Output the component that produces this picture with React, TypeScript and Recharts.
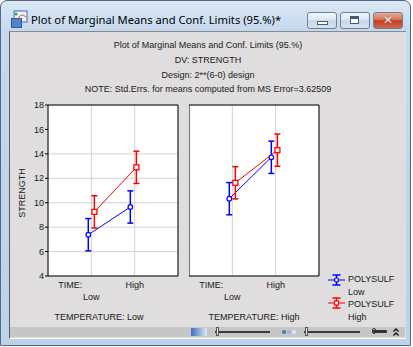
import React from 'react';
import {
  ComposedChart,
  Line,
  XAxis,
  YAxis,
  CartesianGrid,
  ErrorBar,
  ReferenceArea
} from 'recharts';

const timeLevels = ['Low', 'High'];
const temperatureLevels = ['Low', 'High'];
const polysulfLevels = ['Low', 'High'];

// marginal means, [TIME Low, TIME High]
const tempLowPolyLow = [7.38, 9.65];
const tempLowPolyHigh = [9.25, 12.9];
const tempHighPolyLow = [10.33, 13.72];
const tempHighPolyHigh = [11.63, 14.3];

// 95% conf. limits (half width)
const ciPolyLow = [1.32, 1.32];
const ciPolyHigh = [1.32, 1.32];

// small x shift so the two groups don't sit on top of each other
const shiftPolyLow = [-0.07, -0.1];
const shiftPolyHigh = [0.07, 0.04];

const yTicks = [4, 6, 8, 10, 12, 14, 16, 18];

const FONT = '"Liberation Sans", Arial, sans-serif';
const BLUE = '#0000ff';
const RED = '#ff0000';

const toRows = (means: number[], ci: number[], shift: number[]) =>
  means.map((m, i) => ({ x: i + 1 + shift[i], y: m, ci: ci[i] }));

const TimeTick = (props: any) => {
  const { x, y, payload } = props;
  const idx = Math.round(payload.value) - 1;
  return (
    <g fontFamily={FONT} fontSize={9} fill="#1a1a1a">
      {idx === 0 && (
        <text x={x - 21} y={y + 12} textAnchor="middle">TIME:</text>
      )}
      <text x={x} y={idx === 0 ? y + 24 : y + 12} textAnchor="middle">
        {timeLevels[idx]}
      </text>
    </g>
  );
};

const circleDot = (p: any) => (
  <circle key={`c-${p.index}`} cx={p.cx} cy={p.cy} r={2.3} fill="#fff" stroke={BLUE} strokeWidth={1.2} />
);
const squareDot = (p: any) => (
  <rect key={`s-${p.index}`} x={p.cx - 2.5} y={p.cy - 2.5} width={5} height={5} fill="#fff" stroke={RED} strokeWidth={1.3} />
);

function Panel({ left, width, showY, polyLow, polyHigh }: any) {
  const low = toRows(polyLow, ciPolyLow, shiftPolyLow);
  const high = toRows(polyHigh, ciPolyHigh, shiftPolyHigh);
  return (
    <div style={{ position: 'absolute', left, top: 98 }}>
      <ComposedChart width={width} height={205} margin={{ top: 7, right: 6, bottom: 2, left: 0 }}>
        <CartesianGrid stroke="#d2d2d2" fill="#fff" fillOpacity={1} />
        <XAxis
          type="number"
          dataKey="x"
          domain={[0, 3]}
          ticks={[1, 2]}
          tick={<TimeTick />}
          tickLine={false}
          axisLine={false}
          tickSize={0}
          tickMargin={0}
          height={25}
          allowDataOverflow
        />
        <YAxis
          type="number"
          domain={[4, 18]}
          ticks={yTicks}
          width={showY ? 34 : 0}
          mirror={!showY}
          tick={showY ? { fontSize: 9, fontFamily: FONT, fill: '#1a1a1a' } : false}
          tickSize={3}
          tickMargin={1}
          tickLine={{ stroke: '#000' }}
          axisLine={false}
          allowDataOverflow
        />
        <ReferenceArea x1={0} x2={3} y1={4} y2={18} fill="none" stroke="#000" strokeWidth={1} ifOverflow="visible" />
        <Line
          data={low}
          dataKey="y"
          stroke={BLUE}
          strokeWidth={1}
          dot={circleDot}
          isAnimationActive={false}
        >
          <ErrorBar dataKey="ci" direction="y" width={3} stroke={BLUE} strokeWidth={1.5} isAnimationActive={false} />
        </Line>
        <Line
          data={high}
          dataKey="y"
          stroke={RED}
          strokeWidth={1}
          dot={squareDot}
          isAnimationActive={false}
        >
          <ErrorBar dataKey="ci" direction="y" width={3} stroke={RED} strokeWidth={1.5} isAnimationActive={false} />
        </Line>
      </ComposedChart>
    </div>
  );
}

const txt = (s: React.CSSProperties): React.CSSProperties => ({
  position: 'absolute',
  fontFamily: FONT,
  fontSize: 9,
  color: '#1a1a1a',
  whiteSpace: 'nowrap',
  lineHeight: '11px',
  ...s
});

const btn = (left: number, bg: string): React.CSSProperties => ({
  position: 'absolute',
  left,
  top: 12,
  width: 28,
  height: 15,
  border: '1px solid #6f7f98',
  borderRadius: 3,
  background: bg
});

export default function App() {
  const glass = 'linear-gradient(#f3f7fc, #dde7f3 45%, #c6d6ea 52%, #d6e3f1)';
  return (
    <div style={{ position: 'absolute', left: 0, top: 0, width: 413, height: 347, overflow: 'hidden', background: '#fff' }}>
      {/* window frame */}
      <div
        style={{
          position: 'absolute',
          left: 0,
          top: 0,
          width: 409,
          height: 344,
          border: '1px solid #57677d',
          borderRadius: '7px 7px 0 0',
          background: 'linear-gradient(#dbe7f5, #c4d8ee 30px, #bcd2ea)'
        }}
      />
      {/* title icon */}
      <svg style={{ position: 'absolute', left: 11, top: 10 }} width={18} height={18}>
        <rect x={3} y={1} width={13} height={11} fill="#eaf3fb" stroke="#3a6fb8" />
        <rect x={0.5} y={8.5} width={10} height={9} fill="#4d83cf" stroke="#2a5a9a" />
        <path d="M6 10 Q10 2 15 7" stroke="#e05050" fill="none" />
        <circle cx={5} cy={4} r={1.5} fill="#3a9a3a" />
      </svg>
      <div style={{ position: 'absolute', left: 31, top: 12, fontFamily: '"Noto Sans", "DejaVu Sans", sans-serif', fontSize: 11.2, color: '#000', whiteSpace: 'nowrap', lineHeight: '16px' }}>
        Plot of Marginal Means and Conf. Limits (95.%)*
      </div>
      {/* caption buttons */}
      <div style={btn(307, glass)}>
        <div style={{ position: 'absolute', left: 9, top: 8, width: 9, height: 2, background: '#fff', border: '1px solid #4a5a70' }} />
      </div>
      <div style={btn(340, glass)}>
        <div style={{ position: 'absolute', left: 9, top: 3, width: 7, height: 6, border: '1px solid #4a5a70', boxShadow: 'inset 0 2px 0 #4a5a70', background: '#fff' }} />
      </div>
      <div style={btn(373, 'linear-gradient(#e9a895, #d67157 45%, #c23d22 52%, #d3684c)')}>
        <div style={{ position: 'absolute', left: 0, top: 0, width: 28, textAlign: 'center', fontFamily: '"DejaVu Sans", sans-serif', fontWeight: 'bold', fontSize: 12, lineHeight: '15px', color: '#fff', textShadow: '0 0 1px #6a1a10' }}>
          ✕
        </div>
      </div>

      {/* client area */}
      <div
        style={{
          position: 'absolute',
          left: 9,
          top: 31,
          width: 396,
          height: 306,
          background: '#dfdddd',
          borderLeft: '1px solid #5c5c5c',
          borderTop: '1px solid #8a8a8a',
          borderBottom: '1px solid #fff'
        }}
      />

      {/* headers */}
      <div style={txt({ left: 0, width: 416, textAlign: 'center', top: 40 })}>Plot of Marginal Means and Conf. Limits (95.%)</div>
      <div style={txt({ left: 0, width: 416, textAlign: 'center', top: 55 })}>DV: STRENGTH</div>
      <div style={txt({ left: 0, width: 416, textAlign: 'center', top: 70 })}>Design: 2**(6-0) design</div>
      <div style={txt({ left: 0, width: 416, textAlign: 'center', top: 84 })}>NOTE: Std.Errs. for means computed from MS Error=3.62509</div>

      <Panel left={14} width={170} showY polyLow={tempLowPolyLow} polyHigh={tempLowPolyHigh} />
      <Panel left={189} width={136} showY={false} polyLow={tempHighPolyLow} polyHigh={tempHighPolyHigh} />

      <div style={txt({ left: 22, top: 193, transform: 'translate(-50%, -50%) rotate(-90deg)' })}>STRENGTH</div>

      <div style={txt({ left: 39, width: 120, textAlign: 'center', top: 312 })}>TEMPERATURE: {temperatureLevels[0]}</div>
      <div style={txt({ left: 194, width: 120, textAlign: 'center', top: 312 })}>TEMPERATURE: {temperatureLevels[1]}</div>

      {/* legend */}
      <svg style={{ position: 'absolute', left: 326, top: 270 }} width={22} height={45}>
        <g stroke={BLUE} strokeWidth={1.5}>
          <line x1={2} x2={19} y1={10} y2={10} strokeWidth={1} />
          <line x1={10.5} x2={10.5} y1={5} y2={15} />
          <line x1={6.5} x2={14.5} y1={5} y2={5} />
          <line x1={6.5} x2={14.5} y1={15} y2={15} />
          <circle cx={10.5} cy={10} r={2} fill="#fff" strokeWidth={1.2} />
        </g>
        <g stroke={RED} strokeWidth={1.5}>
          <line x1={2} x2={19} y1={33} y2={33} strokeWidth={1} />
          <line x1={10.5} x2={10.5} y1={28} y2={38} />
          <line x1={6.5} x2={14.5} y1={28} y2={28} />
          <line x1={6.5} x2={14.5} y1={38} y2={38} />
          <rect x={8.5} y={31} width={4} height={4} fill="#fff" strokeWidth={1.2} />
        </g>
      </svg>
      <div style={txt({ left: 348, top: 274 })}>POLYSULF</div>
      <div style={txt({ left: 348, top: 287 })}>{polysulfLevels[0]}</div>
      <div style={txt({ left: 348, top: 299 })}>POLYSULF</div>
      <div style={txt({ left: 348, top: 312 })}>{polysulfLevels[1]}</div>

      {/* status bar */}
      <div style={{ position: 'absolute', left: 10, top: 327, width: 395, height: 10, background: '#c6c6c6' }} />
      <div style={{ position: 'absolute', left: 191, top: 328, width: 16, height: 8, background: 'linear-gradient(90deg, #3f72b8, #dfe9f5)' }} />
      <div style={{ position: 'absolute', left: 215, top: 331, width: 55, height: 2, background: '#3a3a3a' }} />
      <div style={{ position: 'absolute', left: 216, top: 327, width: 3, height: 9, background: '#e8e8e8', border: '1px solid #555', boxSizing: 'border-box' }} />
      <div style={{ position: 'absolute', left: 282, top: 330, width: 4, height: 4, borderRadius: 2, background: '#4a78b8' }} />
      <div style={{ position: 'absolute', left: 287, top: 330, width: 4, height: 4, borderRadius: 2, background: '#9ab6da' }} />
      <div style={{ position: 'absolute', left: 292, top: 330, width: 4, height: 4, borderRadius: 2, background: '#dfe8f3' }} />
      <div style={{ position: 'absolute', left: 304, top: 331, width: 56, height: 2, background: '#3a3a3a' }} />
      <div style={{ position: 'absolute', left: 305, top: 327, width: 3, height: 9, background: '#e8e8e8', border: '1px solid #555', boxSizing: 'border-box' }} />
      <div style={{ position: 'absolute', left: 373, top: 330, width: 14, height: 3, background: '#333', borderRadius: 1 }} />
      <div style={{ position: 'absolute', left: 372, top: 328, width: 4, height: 6, border: '1px solid #333', borderRadius: 2, boxSizing: 'border-box' }} />
      <svg style={{ position: 'absolute', left: 392, top: 327 }} width={8} height={10}>
        <path d="M1.5 4.5 L4 2 L6.5 4.5 M1.5 8.5 L4 6 L6.5 8.5" stroke="#111" strokeWidth={1.3} fill="none" />
      </svg>
    </div>
  );
}
